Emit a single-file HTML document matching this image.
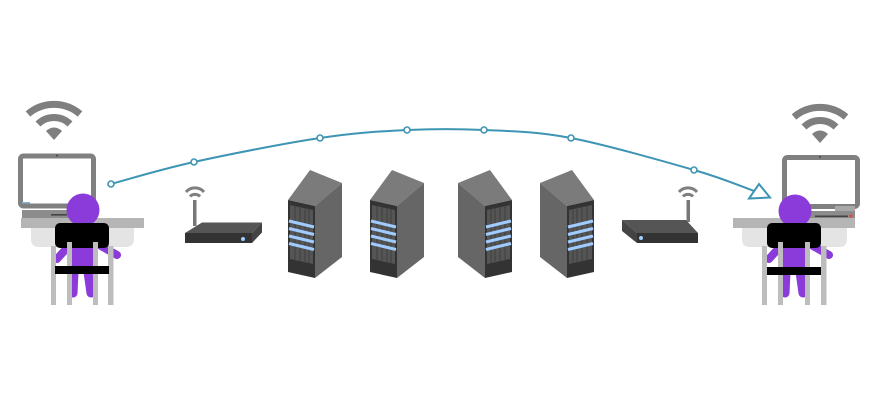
<!DOCTYPE html>
<html>
<head>
<meta charset="utf-8">
<style>
html,body{margin:0;padding:0;background:#ffffff;}
body{width:870px;height:400px;overflow:hidden;}
svg{display:block;}
</style>
</head>
<body>
<svg width="870" height="400" viewBox="0 0 870 400" xmlns="http://www.w3.org/2000/svg">
  <rect width="870" height="400" fill="#ffffff"/>

  <!-- ============ LEFT WORKSTATION ============ -->
  <g id="wifiL" fill="none" stroke="#7f7f7f" stroke-width="7">
    <path d="M 28 114 A 40 40 0 0 1 80 114"/>
    <path d="M 38 124 A 23 23 0 0 1 70 124"/>
    <path d="M 46 131 A 11 11 0 0 1 62 131 L 54 140 Z" fill="#7f7f7f" stroke="none"/>
  </g>
  <!-- desk -->
  <path d="M 31 228 L 134 228 L 134 239 Q 134 247 126 247 L 39 247 Q 31 247 31 239 Z" fill="#e4e4e4"/>
  <rect x="21" y="218" width="123" height="10" fill="#b5b5b5"/>
  <!-- monitor -->
  <rect x="20.5" y="156" width="73" height="50" rx="3" fill="#ffffff" stroke="#808080" stroke-width="5"/>
  <rect x="22" y="202" width="8" height="1.5" fill="#7fb3d5"/>
  <circle cx="57" cy="155.5" r="0.9" fill="#333"/>
  <rect x="22" y="210" width="52" height="8" fill="#8c8c8c"/>
  <rect x="51" y="214" width="16" height="1.6" fill="#444"/>
  <!-- person -->
  <g stroke="#8b3bd9" stroke-linecap="round" fill="none">
    <line x1="66" y1="249" x2="57" y2="259" stroke-width="8"/>
    <line x1="101" y1="246" x2="117" y2="255" stroke-width="8"/>
    <line x1="74" y1="272" x2="73" y2="293" stroke-width="9"/>
    <line x1="88" y1="272" x2="91" y2="293" stroke-width="9"/>
  </g>
  <rect x="70" y="238" width="26" height="34" rx="4" fill="#8b3bd9"/>
  <circle cx="83" cy="210" r="16.5" fill="#8b3bd9"/>
  <!-- chair -->
  <rect x="51" y="246" width="5" height="59" fill="#bdbdbd"/>
  <rect x="108" y="246" width="5.5" height="59" fill="#bdbdbd"/>
  <rect x="55" y="223" width="54" height="25" rx="5" fill="#000000"/>
  <rect x="67" y="242" width="5" height="63" fill="#bdbdbd"/>
  <rect x="93" y="242" width="5" height="63" fill="#bdbdbd"/>
  <rect x="55" y="266" width="54" height="8" fill="#000000"/>

  <!-- ============ RIGHT WORKSTATION ============ -->
  <g transform="translate(766,3)" fill="none" stroke="#7f7f7f" stroke-width="7">
    <path d="M 28 114 A 40 40 0 0 1 80 114"/>
    <path d="M 38 124 A 23 23 0 0 1 70 124"/>
    <path d="M 46 131 A 11 11 0 0 1 62 131 L 54 140 Z" fill="#7f7f7f" stroke="none"/>
  </g>
  <path d="M 742 228 L 847 228 L 847 239 Q 847 247 839 247 L 750 247 Q 742 247 742 239 Z" fill="#e4e4e4"/>
  <rect x="733" y="218" width="122" height="10" fill="#b5b5b5"/>
  <rect x="784.5" y="157.5" width="73" height="49" rx="3" fill="#ffffff" stroke="#808080" stroke-width="5"/>
  <circle cx="820" cy="157" r="0.9" fill="#333"/>
  <rect x="835" y="206" width="20" height="6" fill="#a8a8a8"/>
  <rect x="806" y="211" width="49" height="7" fill="#8c8c8c"/>
  <rect x="815" y="215.5" width="33" height="1.6" fill="#444"/>
  <circle cx="851" cy="216" r="1.6" fill="#e04848"/>
  <g stroke="#8b3bd9" stroke-linecap="round" fill="none">
    <line x1="778" y1="249" x2="769" y2="259" stroke-width="8"/>
    <line x1="813" y1="246" x2="829" y2="255" stroke-width="8"/>
    <line x1="786" y1="272" x2="785" y2="293" stroke-width="9"/>
    <line x1="800" y1="272" x2="803" y2="293" stroke-width="9"/>
  </g>
  <rect x="782" y="238" width="26" height="34" rx="4" fill="#8b3bd9"/>
  <circle cx="795" cy="211" r="16.5" fill="#8b3bd9"/>
  <rect x="762" y="246" width="5" height="59" fill="#bdbdbd"/>
  <rect x="821" y="246" width="5.5" height="59" fill="#bdbdbd"/>
  <rect x="767" y="223" width="54" height="25" rx="5" fill="#000000"/>
  <rect x="778" y="242" width="5" height="63" fill="#bdbdbd"/>
  <rect x="805" y="242" width="5" height="63" fill="#bdbdbd"/>
  <rect x="767" y="267" width="54" height="8" fill="#000000"/>

  <!-- ============ ROUTERS ============ -->
  <g>
    <path d="M 186 192 A 12 12 0 0 1 204 192" fill="none" stroke="#7f7f7f" stroke-width="3"/>
    <path d="M 190 196.5 A 7 7 0 0 1 200 196.5" fill="none" stroke="#7f7f7f" stroke-width="3"/>
    <rect x="193" y="200" width="3.5" height="26" fill="#777"/>
    <polygon points="185,233 202,222.5 262,222.5 252,233" fill="#555555"/>
    <polygon points="252,233 262,222.5 262,232.5 252,243" fill="#444444"/>
    <rect x="185" y="233" width="67" height="10" fill="#333333"/>
    <circle cx="243" cy="239" r="2" fill="#9fd0ff"/>
  </g>
  <g>
    <path d="M 679 192 A 12 12 0 0 1 697 192" fill="none" stroke="#7f7f7f" stroke-width="3"/>
    <path d="M 683 196.5 A 7 7 0 0 1 693 196.5" fill="none" stroke="#7f7f7f" stroke-width="3"/>
    <rect x="686.5" y="200" width="3.5" height="22" fill="#777"/>
    <polygon points="622,220 686,220 698,233 637,233" fill="#555555"/>
    <polygon points="622,220 637,233 637,243 622,231" fill="#444444"/>
    <rect x="637" y="233" width="61" height="10" fill="#333333"/>
    <circle cx="641" cy="238" r="2" fill="#9fd0ff"/>
  </g>

  <!-- ============ SERVERS ============ -->
  <defs>
    <g id="srvL">
      <polygon points="288,200 310,170 342,183 315,206" fill="#7b7b7b"/>
      <polygon points="315,206 342,183 342,257 315,278" fill="#666666"/>
      <polygon points="288,200 315,206 315,278 288,272" fill="#333333"/>
      <polygon points="290,205 313,210 313,264 290,259" fill="#555555"/>
      <g stroke="#3a3a3a" stroke-width="0.8">
        <line x1="295" y1="206" x2="295" y2="260"/>
        <line x1="300" y1="207" x2="300" y2="261"/>
        <line x1="305" y1="208" x2="305" y2="262"/>
        <line x1="309" y1="209" x2="309" y2="263"/>
      </g>
      <g stroke="#9fcbff" stroke-width="3">
        <line x1="289" y1="221" x2="314" y2="227"/>
        <line x1="289" y1="228.5" x2="314" y2="234.5"/>
        <line x1="289" y1="236" x2="314" y2="242"/>
        <line x1="289" y1="243.5" x2="314" y2="249.5"/>
      </g>
    </g>
    <g id="srvR">
      <polygon points="512,200 490,170 458,183 485,206" fill="#7b7b7b"/>
      <polygon points="485,206 458,183 458,257 485,278" fill="#666666"/>
      <polygon points="512,200 485,206 485,278 512,272" fill="#333333"/>
      <polygon points="510,205 487,210 487,264 510,259" fill="#555555"/>
      <g stroke="#3a3a3a" stroke-width="0.8">
        <line x1="505" y1="206" x2="505" y2="260"/>
        <line x1="500" y1="207" x2="500" y2="261"/>
        <line x1="495" y1="208" x2="495" y2="262"/>
        <line x1="491" y1="209" x2="491" y2="263"/>
      </g>
      <g stroke="#9fcbff" stroke-width="3">
        <line x1="511" y1="221" x2="486" y2="227"/>
        <line x1="511" y1="228.5" x2="486" y2="234.5"/>
        <line x1="511" y1="236" x2="486" y2="242"/>
        <line x1="511" y1="243.5" x2="486" y2="249.5"/>
      </g>
    </g>
  </defs>
  <use href="#srvL"/>
  <use href="#srvL" transform="translate(82,0)"/>
  <use href="#srvR"/>
  <use href="#srvR" transform="translate(82,0)"/>

  <!-- ============ CONNECTOR ============ -->
  <g fill="none" stroke="#3d95b3" stroke-width="2">
    <path d="M 111 184 C 124.8 180.3 159.2 169.7 194 162 C 228.8 154.3 284.5 143.3 320 138 C 355.5 132.7 379.7 131.3 407 130 C 434.3 128.7 456.7 128.7 484 130 C 511.3 131.3 536 131.3 571 138 C 606 144.7 663.5 161.2 694 170 C 724.5 178.8 744 187.5 754 191"/>
    <polygon points="770,197.5 759,184 749,198.5" stroke-linejoin="miter"/>
  </g>
  <g fill="#ffffff" stroke="#3d95b3" stroke-width="1.6">
    <circle cx="111" cy="184" r="3"/>
    <circle cx="194" cy="162" r="3"/>
    <circle cx="320" cy="138" r="3"/>
    <circle cx="407" cy="130" r="3"/>
    <circle cx="484" cy="130" r="3"/>
    <circle cx="571" cy="138" r="3"/>
    <circle cx="694" cy="170" r="3"/>
  </g>
</svg>
</body>
</html>
